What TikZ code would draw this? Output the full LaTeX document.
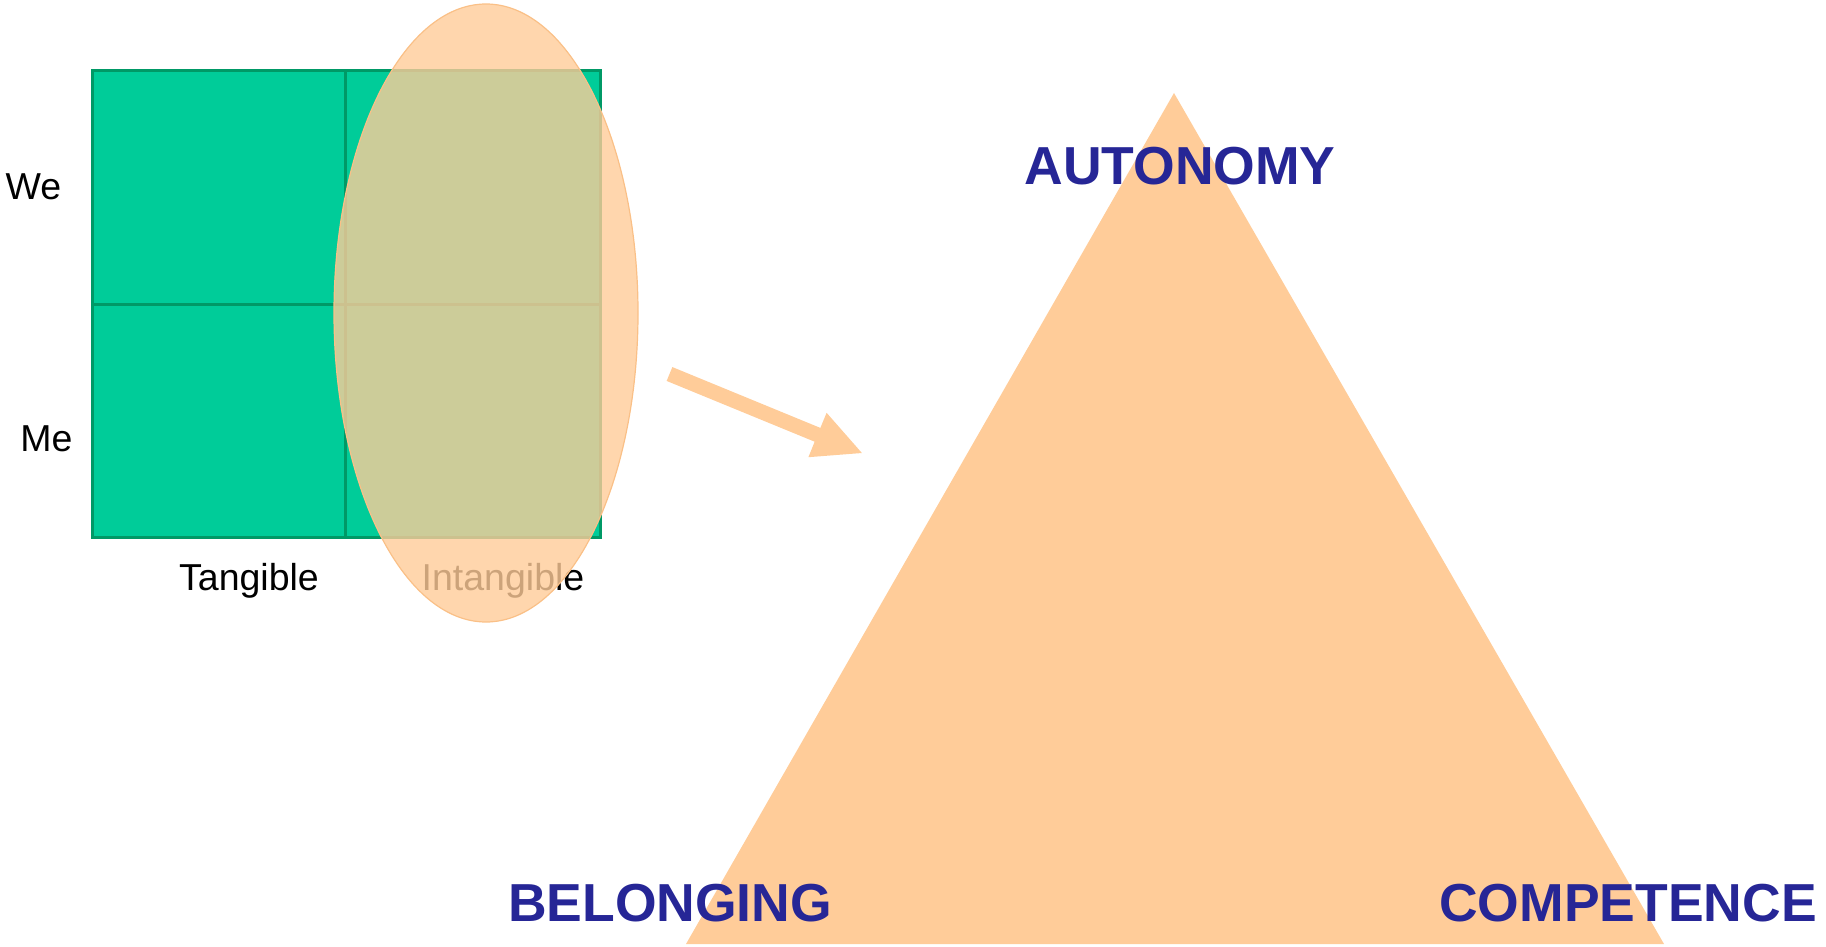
\documentclass[tikz,border=0pt]{standalone}
\usepackage{fontspec}
\setmainfont{Liberation Sans}
\definecolor{grn}{RGB}{0,204,153}
\definecolor{grnline}{RGB}{0,153,102}
\definecolor{peach}{RGB}{255,204,153}
\definecolor{peachline}{RGB}{250,192,135}
\definecolor{navy}{RGB}{38,38,150}
\tikzset{
  axislabel/.style={inner sep=0pt, anchor=base, font=\fontsize{37.5}{41}\selectfont, text=black},
  needlabel/.style={inner sep=0pt, anchor=base, font=\fontsize{53.5}{57}\selectfont\bfseries, text=navy},
}
\begin{document}
\begin{tikzpicture}[x=1pt,y=-1pt]
\useasboundingbox (0,0) rectangle (1826,947);
% grid
\fill[grn] (92,71) rectangle (600,537);
\draw[grnline, line width=3pt] (92,71) rectangle (600,537);
\draw[grnline, line width=3pt] (345,71) -- (345,537);
\draw[grnline, line width=3pt] (92,304) -- (600,304);
% labels
\node[axislabel] (we) at (33.5,200) {We};
\node[axislabel] (me) at (46.5,451) {Me};
\node[axislabel] (tang) at (249,590) {Tangible};
\node[axislabel] (intang) at (503,590) {Intangible};
% ellipse
\fill[peach, opacity=0.8] (486,313) ellipse [x radius=152pt, y radius=309pt];
\draw[peachline, line width=1.2pt] (486,313) ellipse [x radius=152pt, y radius=309pt];
% block arrow
\fill[peach] (672.35,367.06) -- (820.35,427.9) -- (826.6,412.8) -- (861.9,453.0)
  -- (808.4,457.2) -- (814.65,441.7) -- (666.65,380.94) -- cycle;
% triangle
\fill[peach] (1174,93) -- (1664,944) -- (686,944) -- cycle;
% needs
\node[needlabel] (aut) at (1180,184) {AUTONOMY};
\node[needlabel] (bel) at (670,921) {BELONGING};
\node[needlabel] (comp) at (1628,921) {COMPETENCE};
\end{tikzpicture}
\end{document}
